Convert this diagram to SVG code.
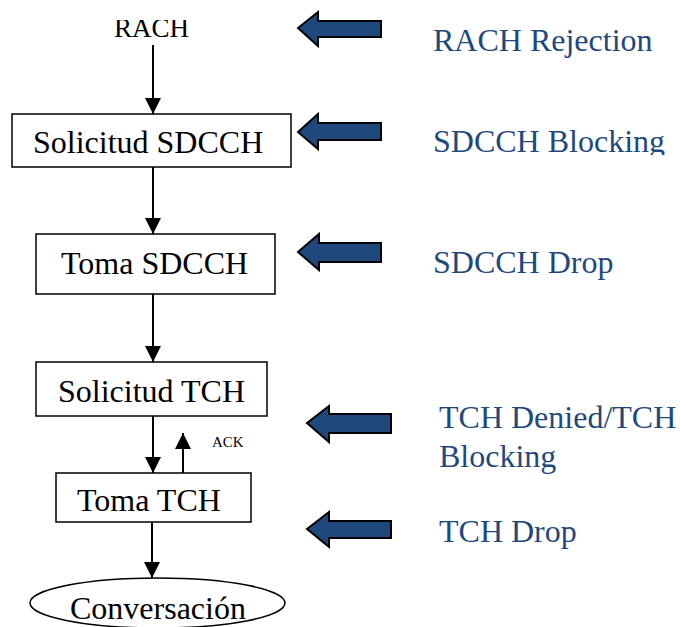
<svg xmlns="http://www.w3.org/2000/svg" width="680" height="627" viewBox="0 0 680 627">
<style>
.t{font-family:"Liberation Serif","Times New Roman",serif;font-size:32px;fill:#000}
.b{font-family:"Liberation Serif","Times New Roman",serif;font-size:32px;fill:#1F497D}
.box{fill:#fff;stroke:#000;stroke-width:1.5}
.c{stroke:#000;stroke-width:2;fill:none}
.ba{fill:#1F497D;stroke:#000;stroke-width:2;stroke-linejoin:miter}
</style>
<defs>
<marker id="ah" markerUnits="userSpaceOnUse" markerWidth="16" markerHeight="16" viewBox="0 0 16 16" refX="16" refY="8" orient="auto">
<path d="M0,0 L16,8 L0,16 Z" fill="#000"/>
</marker>
<clipPath id="clipTop"><rect x="0" y="20" width="680" height="607"/></clipPath>
<clipPath id="clipBlk"><rect x="0" y="0" width="680" height="155"/></clipPath>
</defs>
<rect width="680" height="627" fill="#fff"/>

<g id="connectors">
<line class="c" x1="153" y1="45" x2="153" y2="114" marker-end="url(#ah)"/>
<line class="c" x1="153" y1="167" x2="153" y2="234" marker-end="url(#ah)"/>
<line class="c" x1="153" y1="294" x2="153" y2="362" marker-end="url(#ah)"/>
<line class="c" x1="153" y1="416" x2="153" y2="473" marker-end="url(#ah)"/>
<line class="c" x1="183" y1="473" x2="183" y2="433" marker-end="url(#ah)"/>
<line class="c" x1="152" y1="522" x2="152" y2="578" marker-end="url(#ah)"/>
<text x="212" y="447" font-family="Liberation Serif, serif" font-size="15" fill="#000">ACK</text>
</g>

<g id="rach">
<text class="t" x="114" y="37" style="font-size:27px" clip-path="url(#clipTop)">RACH</text>
</g>
<g id="solicitud-sdcch">
<rect class="box" x="12" y="114" width="279" height="53"/>
<text class="t" x="33" y="153">Solicitud SDCCH</text>
</g>
<g id="toma-sdcch">
<rect class="box" x="36" y="234" width="239" height="60"/>
<text class="t" x="61" y="274">Toma SDCCH</text>
</g>
<g id="solicitud-tch">
<rect class="box" x="36" y="362" width="231" height="54"/>
<text class="t" x="58" y="402">Solicitud TCH</text>
</g>
<g id="toma-tch">
<rect class="box" x="56" y="473" width="195" height="49"/>
<text class="t" x="77" y="511">Toma TCH</text>
</g>
<g id="conversacion">
<ellipse class="box" cx="157.5" cy="603" rx="127.5" ry="25"/>
<text class="t" x="70" y="619">Conversación</text>
</g>

<g id="rach-rejection">
<polygon class="ba" points="298,28 318,12 318,21 381,21 381,37 318,37 318,46"/>
<text class="b" x="433" y="51">RACH Rejection</text>
</g>
<g id="sdcch-blocking">
<polygon class="ba" points="298,132 318,114 318,123 381,123 381,140 318,140 318,149"/>
<text class="b" x="433" y="152" clip-path="url(#clipBlk)">SDCCH Blocking</text>
</g>
<g id="sdcch-drop">
<polygon class="ba" points="298,252 319,234 319,243 381,243 381,262 319,262 319,270"/>
<text class="b" x="433" y="273">SDCCH Drop</text>
</g>
<g id="tch-denied">
<polygon class="ba" points="307,423 329,406 329,414 391,414 391,433 329,433 329,442"/>
<text class="b" x="439" y="428">TCH Denied/TCH</text>
<text class="b" x="439" y="467">Blocking</text>
</g>
<g id="tch-drop">
<polygon class="ba" points="307,529 329,512 329,521 391,521 391,538 329,538 329,547"/>
<text class="b" x="439" y="542">TCH Drop</text>
</g>
</svg>
